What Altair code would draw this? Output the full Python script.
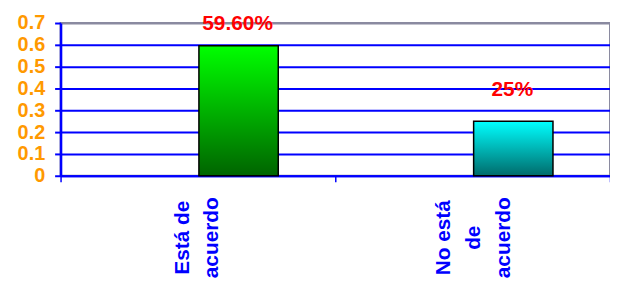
import altair as alt
import pandas as pd

categories = ["Está de|acuerdo", "No está|de|acuerdo"]
values = [0.596, 0.25]
labels = ["59.60%", "25%"]

df = pd.DataFrame({"cat": categories, "val": values, "lab": labels})

xscale = alt.Scale(domain=categories, paddingInner=0, paddingOuter=0)
x = alt.X("cat:N", scale=xscale, sort=None, title=None,
          axis=alt.Axis(labelAngle=270, labelAlign="center", labelBaseline="middle",
                        labelExpr="split(datum.label, '|')", labelLineHeight=30,
                        labelFont="Liberation Sans", labelFontWeight="bold",
                        labelFontSize=21, labelColor="#0000FF", labelPadding=56,
                        labelOffset={"condition": {"test": f"datum.value === '{categories[1]}'", "value": -29},
                                     "value": -16},
                        tickBand="extent", tickColor="#0000FF", tickSize=6, tickWidth=1.5,
                        domainColor="#0000FF", domainWidth=2, grid=False))
y = alt.Y("val:Q", scale=alt.Scale(domain=[0, 0.7], nice=False), title=None,
          axis=alt.Axis(values=[0, 0.1, 0.2, 0.3, 0.4, 0.5, 0.6, 0.7], format=".1~f",
                        labelFont="Liberation Sans", labelFontWeight="bold",
                        labelFontSize=20, labelColor="#FF9900", labelPadding=10,
                        tickColor="#0000FF", tickSize=6, tickWidth=2,
                        domainColor="#0000FF", domainWidth=2.5,
                        grid=True, gridWidth=2,
                        gridColor={"condition": {"test": "datum.value >= 0.7", "value": "#8a8aa0"},
                                   "value": "#0000FF"}))

base = alt.Chart(df)

def grad(top, bottom):
    return alt.LinearGradient(gradient="linear", x1=0, y1=0, x2=0, y2=1,
                              stops=[alt.GradientStop(color=top, offset=0),
                                     alt.GradientStop(color=bottom, offset=1)])

bar1 = base.transform_filter(alt.datum.cat == categories[0]).mark_bar(
    width=80, xOffset=41, color=grad("#00FF00", "#006400"), stroke="#000000", strokeWidth=1.5
).encode(x=x, y=y)
bar2 = base.transform_filter(alt.datum.cat == categories[1]).mark_bar(
    width=80, xOffset=41, color=grad("#00FFFF", "#006B6B"), stroke="#000000", strokeWidth=1.5
).encode(x=x, y=y)

txt1 = base.transform_filter(alt.datum.cat == categories[0]).mark_text(
    dx=40, dy=-16, baseline="alphabetic", font="Liberation Sans", fontWeight="bold",
    fontSize=21, color="#FF0000"
).encode(x=x, y=y, text="lab:N")
txt2 = base.transform_filter(alt.datum.cat == categories[1]).mark_text(
    dx=40, dy=-25, baseline="alphabetic", font="Liberation Sans", fontWeight="bold",
    fontSize=21, color="#FF0000"
).encode(x=x, y=y, text="lab:N")

chart = alt.layer(bar1, bar2, txt1, txt2).properties(
    width=554, height=154,
    autosize=alt.AutoSizeParams(type="none"),
    padding={"left": 53, "top": 14, "right": 0, "bottom": 107},
).configure_view(stroke="#8a8aa0", strokeWidth=2)

chart.save("out.html", embed_options={"renderer": "svg", "actions": False})
